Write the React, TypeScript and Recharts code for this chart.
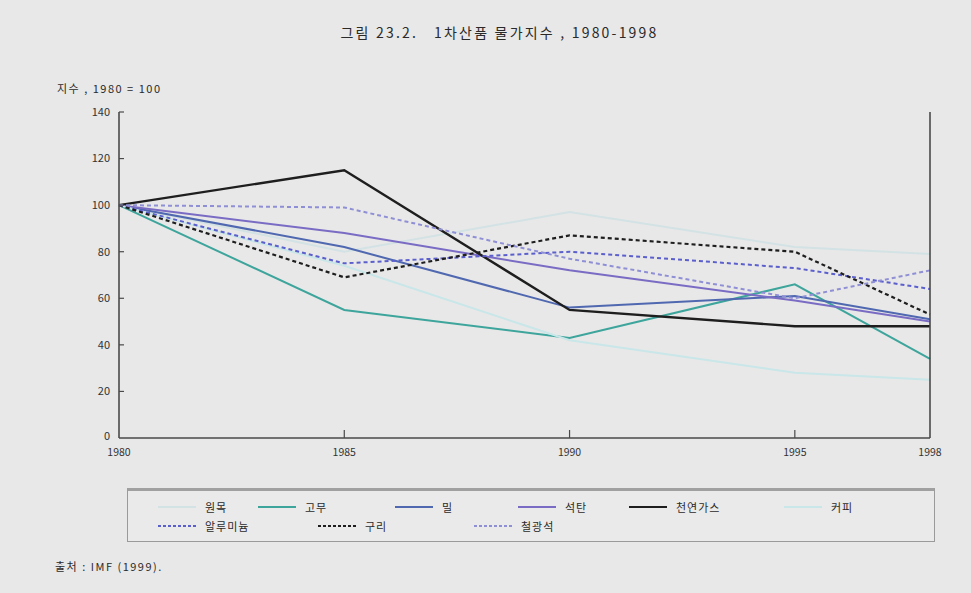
import React from 'react';
import { LineChart, Line, XAxis, YAxis } from 'recharts';

const years = [1980, 1985, 1990, 1995, 1998];
const logs = [100, 80, 97, 82, 79];
const rubber = [100, 55, 43, 66, 34];
const wheat = [100, 82, 56, 61, 51];
const coal = [100, 88, 72, 59, 50];
const naturalGas = [100, 115, 55, 48, 48];
const coffee = [100, 74, 42, 28, 25];
const aluminium = [100, 75, 80, 73, 64];
const copper = [100, 69, 87, 80, 53];
const ironOre = [100, 99, 77, 60, 72];

const yTicks = [0, 20, 40, 60, 80, 100, 120, 140];
const xTicks = [1980, 1985, 1990, 1995, 1998];

const title = '그림 23.2.   1차산품 물가지수 , 1980-1998';
const yLabel = '지수 , 1980 = 100';
const source = '출처 : IMF (1999).';

const FONT = '"Noto Sans CJK KR", "Noto Sans", sans-serif';
const AXIS = '#4a4a4a';

const series = [
  { key: 'logs', name: '원목', values: logs, color: '#d3e2e4', dash: undefined, width: 2 },
  { key: 'rubber', name: '고무', values: rubber, color: '#3ea59c', dash: undefined, width: 2 },
  { key: 'wheat', name: '밀', values: wheat, color: '#4f68b0', dash: undefined, width: 2 },
  { key: 'coal', name: '석탄', values: coal, color: '#7a6cc4', dash: undefined, width: 2 },
  { key: 'naturalGas', name: '천연가스', values: naturalGas, color: '#1e1e1e', dash: undefined, width: 2.4 },
  { key: 'coffee', name: '커피', values: coffee, color: '#c9e6e8', dash: undefined, width: 2 },
  { key: 'aluminium', name: '알루미늄', values: aluminium, color: '#5b5fcc', dash: '4 3', width: 2 },
  { key: 'copper', name: '구리', values: copper, color: '#1e1e1e', dash: '4 3', width: 2.2 },
  { key: 'ironOre', name: '철광석', values: ironOre, color: '#8f8fd6', dash: '4 3', width: 2 },
];

const data = years.map((year, i) => {
  const row: Record<string, number> = { year };
  series.forEach((s) => {
    row[s.key] = s.values[i];
  });
  return row;
});

// legend slots (left offset of sample line, relative to legend box)
const legendPos = [
  { left: 30, top: 17 },
  { left: 130, top: 17 },
  { left: 267, top: 17 },
  { left: 390, top: 17 },
  { left: 501, top: 17 },
  { left: 656, top: 17 },
  { left: 30, top: 36 },
  { left: 190, top: 36 },
  { left: 346, top: 36 },
];

const LeftTick = (props: any) => {
  const { x, y, payload } = props;
  const ax = x + 8;
  return (
    <g>
      {payload.value !== 0 && <line x1={ax} x2={ax + 5} y1={y} y2={y} stroke={AXIS} strokeWidth={1.2} />}
      <text x={x - 1} y={payload.value === 0 ? y - 2 : y} dy="0.35em" textAnchor="end" fontSize={11} fill="#333" fontFamily={FONT}>
        {payload.value}
      </text>
    </g>
  );
};

const RightTick = (props: any) => {
  const { x, y, payload } = props;
  if (payload.value === 0 || payload.value === 140) return null;
  return <line x1={x - 5} x2={x} y1={y} y2={y} stroke={AXIS} strokeWidth={1.2} />;
};

const BottomTick = (props: any) => {
  const { x, y, payload } = props;
  const ay = y - 11;
  const inner = payload.value !== 1980 && payload.value !== 1998;
  return (
    <g>
      {inner && <line x1={x} x2={x} y1={ay} y2={ay - 8} stroke={AXIS} strokeWidth={1.2} />}
      <text x={x} y={y} dy="0.71em" textAnchor="middle" fontSize={10.5} fill="#333" fontFamily={FONT}>
        {payload.value}
      </text>
    </g>
  );
};

export default function App() {
  return (
    <div
      style={{
        position: 'absolute',
        left: 0,
        top: 0,
        width: 971,
        height: 593,
        background: '#e8e8e8',
        fontFamily: FONT,
        color: '#2a2a2a',
        overflow: 'hidden',
      }}
    >
      <div
        style={{
          position: 'absolute',
          left: 0,
          width: 971,
          top: 22,
          textAlign: 'center',
          fontSize: 14,
          letterSpacing: 2.2,
          paddingLeft: 14,
          whiteSpace: 'pre',
        }}
      >
        {title}
      </div>
      <div style={{ position: 'absolute', left: 57, top: 80, fontSize: 11, letterSpacing: 1.5, whiteSpace: 'pre' }}>{yLabel}</div>

      <LineChart width={971} height={593} data={data} margin={{ top: 112, right: 31, left: 89, bottom: 125 }}>
        <XAxis
          dataKey="year"
          type="number"
          domain={[1980, 1998]}
          ticks={xTicks}
          tickSize={0}
          tickMargin={11}
          height={30}
          tickLine={false}
          axisLine={{ stroke: AXIS, strokeWidth: 1.6 }}
          tick={<BottomTick />}
          interval={0}
        />
        <YAxis
          yAxisId="left"
          domain={[0, 140]}
          ticks={yTicks}
          width={30}
          tickSize={0}
          tickMargin={8}
          tickLine={false}
          axisLine={{ stroke: AXIS, strokeWidth: 1.6 }}
          tick={<LeftTick />}
          interval={0}
        />
        <YAxis
          yAxisId="right"
          orientation="right"
          domain={[0, 140]}
          ticks={yTicks}
          width={10}
          tickSize={0}
          tickMargin={0}
          tickLine={false}
          axisLine={{ stroke: AXIS, strokeWidth: 1.6 }}
          tick={<RightTick />}
          interval={0}
        />
        {series.map((s) => (
          <Line
            key={s.key}
            yAxisId="left"
            type="linear"
            dataKey={s.key}
            name={s.name}
            stroke={s.color}
            strokeWidth={s.width}
            strokeDasharray={s.dash}
            dot={false}
            activeDot={false}
            isAnimationActive={false}
          />
        ))}
      </LineChart>

      <div
        style={{
          position: 'absolute',
          left: 127,
          top: 488,
          width: 806,
          height: 50,
          borderLeft: '1px solid #9a9a9a',
          borderRight: '1px solid #9a9a9a',
          borderBottom: '1px solid #9a9a9a',
          borderTop: '3px solid #a0a0a0',
          background: '#eaeaea',
        }}
      >
        {series.map((s, i) => (
          <div
            key={s.key}
            style={{
              position: 'absolute',
              left: legendPos[i].left,
              top: legendPos[i].top - 9,
              display: 'flex',
              alignItems: 'center',
              height: 16,
              fontSize: 11,
              letterSpacing: 1,
              whiteSpace: 'nowrap',
            }}
          >
            <svg width={38} height={6} style={{ marginRight: 9 }}>
              <line x1={0} x2={38} y1={3} y2={3} stroke={s.color} strokeWidth={2} strokeDasharray={s.dash ? '3 2' : undefined} />
            </svg>
            <span>{s.name}</span>
          </div>
        ))}
      </div>

      <div style={{ position: 'absolute', left: 55, top: 558, fontSize: 11, letterSpacing: 1.5, whiteSpace: 'pre' }}>{source}</div>
    </div>
  );
}
